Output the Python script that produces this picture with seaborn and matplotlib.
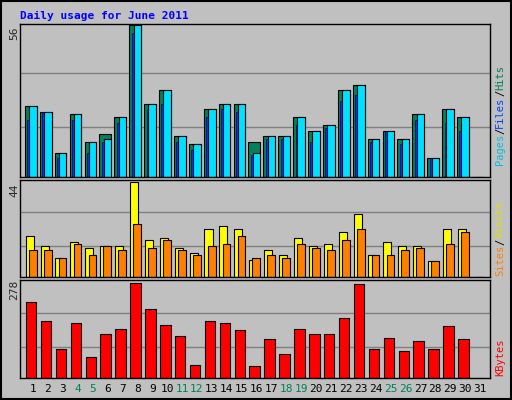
import matplotlib
matplotlib.use("Agg")
import matplotlib.pyplot as plt
import numpy as np
import pandas as pd
import seaborn as sns

days = list(range(1, 32))
hits = [26, 24, 9, 23, 13, 16, 22, 56, 27, 32, 15, 12, 25, 27, 27, 13, 15, 15, 22, 17, 19, 32, 34, 14, 17, 14, 23, 7, 25, 22, 0]
files = [26, 24, 9, 23, 13, 14, 22, 56, 27, 32, 15, 12, 25, 27, 27, 9, 15, 15, 22, 17, 19, 32, 34, 14, 17, 14, 23, 7, 25, 22, 0]
pages = [21, 24, 7, 21, 9, 13, 20, 53, 25, 27, 13, 10, 22, 25, 24, 8, 14, 14, 19, 13, 18, 28, 30, 13, 17, 12, 21, 7, 20, 17, 0]
visits = [19, 14.4, 9, 16, 13.4, 14.4, 14.4, 44, 17.2, 18, 13.4, 11, 22, 23.4, 22, 8, 12.4, 10, 18, 14.4, 15.3, 21, 29.2, 10, 16, 14.4, 14.4, 7.2, 22, 22, 0]
sites = [12.4, 12.4, 9, 15.3, 10, 14.4, 12.4, 24.4, 13.4, 17.2, 12.4, 10, 14.4, 15.3, 19, 9, 10, 9, 15.3, 13.4, 12.4, 17.2, 22, 10, 10, 12.4, 13.4, 7.2, 15.3, 21, 0]
kbytes = [223, 168, 86, 162, 61, 128, 144, 278, 202, 156, 122, 37, 168, 162, 141, 34, 113, 70, 144, 128, 128, 174, 275, 86, 116, 79, 107, 86, 153, 113, 0]
weekend = [4, 5, 11, 12, 18, 19, 25, 26]

BG = "#c0c0c0"
sns.set_theme(style="white")
plt.rcParams["font.family"] = ["DejaVu Sans Mono"]

fig = plt.figure(figsize=(5.12, 4.0), dpi=100, facecolor=BG)
W, H = 512, 400


def panel(y0, y1):
    ax = fig.add_axes([20 / W, 1 - y1 / H, 470 / W, (y1 - y0) / H])
    ax.set_facecolor(BG)
    ax.set_xlim(0.13, 31.67)
    for s in ax.spines.values():
        s.set_color("black")
        s.set_linewidth(1)
    ax.set_xticks([])
    ax.set_yticks([])
    return ax


x = np.array(days, dtype=float)
ek = dict(edgecolor="black", linewidth=0.8, align="edge")

ax1 = panel(24, 177)
m1 = max(hits)
for f in (0.33, 0.68):
    ax1.axhline(m1 * f, color="#808080", lw=1, zorder=0)
ax1.bar(x - 0.54, hits, width=0.79, color="#00805c", **ek)
ax1.bar(x - 0.25, files, width=0.5, color="#00e0ff", **ek)
ax1.bar(x - 0.38, pages, width=0.13, color="#0030ff", edgecolor="black", linewidth=0.4, align="edge")
ax1.set_ylim(0, m1 * 1.005)

ax2 = panel(180, 277)
m2 = max(visits)
for f in (0.33, 0.68):
    ax2.axhline(m2 * f, color="#808080", lw=1, zorder=0)
ax2.bar(x - 0.49, visits, width=0.54, color="#ffff00", **ek)
ax2.bar(x - 0.27, sites, width=0.52, color="#ff8000", **ek)
ax2.set_ylim(0, m2 * 1.02)

ax3 = panel(280, 378)
m3 = max(kbytes)
for f in (0.33, 0.68):
    ax3.axhline(m3 * f, color="#808080", lw=1, zorder=0)
df = pd.DataFrame({"day": x - 0.12, "kb": kbytes})
sns.barplot(data=df, x="day", y="kb", native_scale=True, width=0.7,
            color="#ff0000", saturation=1, edgecolor="black", linewidth=0.8, ax=ax3)
ax3.set_xlim(0.13, 31.67)
ax3.set_ylim(0, m3 * 1.03)
ax3.set_xlabel("")
ax3.set_ylabel("")
ax3.set_xticks([])
ax3.set_yticks([])

fig.text(20 / W, 1 - 16 / H, "Daily usage for June 2011", color="#0000ff",
         fontsize=8, fontweight="bold", va="center")
for txt, yy in (("56", 33), ("44", 190), ("278", 290)):
    fig.text(14 / W, 1 - yy / H, txt, rotation=90, fontsize=8, ha="center", va="center")

for d in days:
    fig.text((33 + (d - 1) * 14.9) / W, 1 - 389 / H, str(d), fontsize=8, ha="center",
             va="center", color="#00805c" if d in weekend else "black")

renderer = fig.canvas.get_renderer()


def side(parts, ybot):
    y = ybot
    for txt, col in parts:
        t = fig.text(500 / W, 1 - y / H, txt, rotation=90, fontsize=7.5, color=col,
                     ha="center", va="bottom")
        y -= t.get_window_extent(renderer).height


side([("Pages", "#00c0e0"), ("/", "black"), ("Files", "#0040ff"), ("/", "black"), ("Hits", "#00805c")], 165)
side([("Sites", "#ff8000"), ("/", "black"), ("Visits", "#e0e000")], 276)
side([("KBytes", "#ff0000")], 376)

fig.patches.append(plt.Rectangle((1 / W, 1 / H), 1 - 2 / W, 1 - 2 / H, transform=fig.transFigure,
                                 fill=False, edgecolor="black", lw=1.5))
fig.savefig("out.png", dpi=100, facecolor=BG)
